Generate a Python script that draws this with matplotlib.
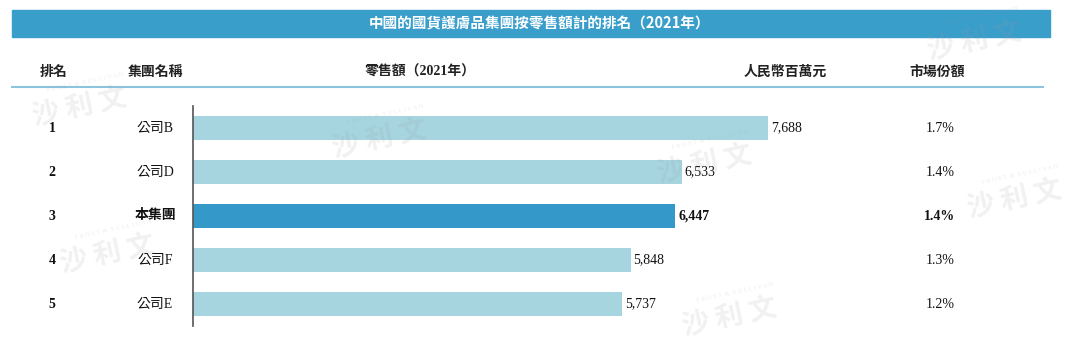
import matplotlib
matplotlib.use("Agg")
import matplotlib.pyplot as plt
from matplotlib.transforms import blended_transform_factory
from matplotlib.patches import Rectangle
from matplotlib.lines import Line2D

title = "中國的國貨護膚品集團按零售額計的排名（2021年）"
headers = ["排名", "集團名稱", "零售額（2021年）", "人民幣百萬元", "市場份額"]
ranks = ["1", "2", "3", "4", "5"]
companies = ["公司B", "公司D", "本集團", "公司F", "公司E"]
sales = [7688, 6533, 6447, 5848, 5737]
shares = ["1.7%", "1.4%", "1.4%", "1.3%", "1.2%"]
highlight = "本集團"
watermark = "沙 利 文"

W, H = 1080, 353
fig = plt.figure(figsize=(W / 100, H / 100), dpi=100)

def fx(px):
    return px / W

def fy(py):
    return 1 - py / H

cjk = ["Noto Sans CJK TC", "DejaVu Sans"]
serif_cjk = ["Liberation Serif", "Noto Sans CJK TC"]

# Title band
fig.patches.append(Rectangle((fx(12), fy(37)), fx(1050) - fx(12), fy(10) - fy(37),
                             transform=fig.transFigure, color="#3a9ecb", zorder=0))
fig.text(fx(540), fy(23.5), title, ha="center", va="center", color="white",
         fontsize=10.5, fontweight="bold", family=cjk)

# Headers
hx = [54, 155, 420, 785, 937]
for x, t in zip(hx, headers):
    fig.text(fx(x), fy(72), t, ha="center", va="center", fontsize=10,
             fontweight="bold", family=["Liberation Serif", "Noto Sans CJK TC"], color="#222222")
fig.lines.append(Line2D([fx(12), fx(1043)], [fy(87), fy(87)], transform=fig.transFigure,
                        color="#8cc3dd", lw=1.5))

# Bar axes
scale = 0.07483  # px per unit
ax_left, ax_right = 193, 1000
ax = fig.add_axes([fx(ax_left), fy(326), fx(ax_right) - fx(ax_left), fy(106) - fy(326)])
ax.set_xlim(0, (ax_right - ax_left) / scale)
ax.set_ylim(len(companies) - 0.5, -0.5)
ypos = list(range(len(companies)))
colors = ["#3499c9" if c == highlight else "#a6d5e0" for c in companies]
ax.barh(ypos, sales, height=0.55, color=colors, zorder=2)
for s in ["top", "right", "bottom"]:
    ax.spines[s].set_visible(False)
ax.spines["left"].set_color("#555555")
ax.spines["left"].set_linewidth(1.2)
ax.set_xticks([])
ax.set_yticks([])
ax.patch.set_alpha(0)

for y, v, c in zip(ypos, sales, companies):
    bold = c == highlight
    ax.text(v + 40, y, f"{v:,}", ha="left", va="center", fontsize=10,
            fontweight="bold" if bold else "normal", family="Liberation Serif", color="#111111")

tr = blended_transform_factory(fig.transFigure, ax.transData)
for y, r, c, s in zip(ypos, ranks, companies, shares):
    bold = c == highlight
    fig.text(fx(52), y, r, transform=tr, ha="center", va="center", fontsize=10,
             fontweight="bold", family="Liberation Serif", color="#111111")
    fig.text(fx(155), y, c, transform=tr, ha="center", va="center", fontsize=10,
             fontweight="bold" if bold else "normal", family=serif_cjk, color="#111111")
    fig.text(fx(940), y, s, transform=tr, ha="center", va="center", fontsize=10,
             fontweight="bold" if bold else "normal", family="Liberation Serif", color="#111111")

# Faint watermarks
wm_pos = [(80, 108), (380, 140), (705, 165), (975, 42), (1015, 200), (108, 255), (730, 318)]
for x, y in wm_pos:
    fig.text(fx(x), fy(y), watermark, ha="center", va="center", fontsize=20,
             fontweight="bold", family=cjk, color="#9a9a9a", alpha=0.14, rotation=12, zorder=10)
    fig.text(fx(x + 5), fy(y - 26), "F R O S T  &  S U L L I V A N", ha="center", va="center",
             fontsize=4.5, family="Liberation Serif", color="#9a9a9a", alpha=0.18,
             rotation=12, zorder=10)

fig.savefig("out.png", dpi=100)
